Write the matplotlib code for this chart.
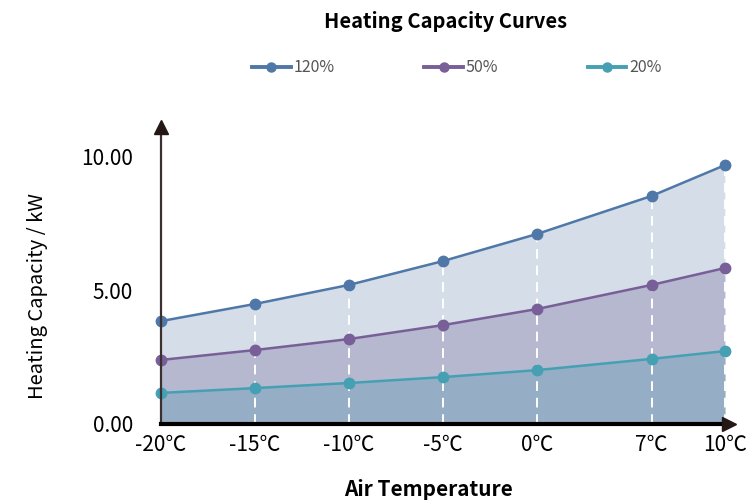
import numpy as np
import matplotlib.pyplot as plt
from matplotlib.lines import Line2D

plt.rcParams['font.family'] = ['Noto Sans CJK KR', 'DejaVu Sans']

# Datos
temperaturas = ['-20℃', '-15℃', '-10℃', '-5℃', '0℃', '7℃', '10℃']
cap_120 = [3.84, 4.48, 5.19, 6.08, 7.09, 8.51, 9.66]
cap_50 = [2.39, 2.76, 3.17, 3.69, 4.29, 5.19, 5.82]
cap_20 = [1.16, 1.34, 1.53, 1.75, 2.01, 2.43, 2.72]

# posiciones de las categorías en el eje (espaciado del original)
posiciones = [0, 1, 2, 3, 4, 5.22, 6]

series = [
    ('120%', cap_120, '#4f78a8', '#d4dde8'),
    ('50%', cap_50, '#785f97', '#b6b8cf'),
    ('20%', cap_20, '#45a0b3', '#95aec5'),
]

fig = plt.figure(figsize=(7.47, 5.03), dpi=100)
ax = fig.add_axes([161 / 747, (503 - 424) / 503, (738 - 161) / 747, (424 - 118) / 503])

x = np.array(posiciones)
for nombre, valores, color, relleno in series:
    ax.fill_between(x, 0, valores, color=relleno, lw=0, zorder=1)

# líneas verticales discontinuas blancas
for xi, yi in zip(x[1:], cap_120[1:]):
    ax.plot([xi, xi], [0, yi], color='white', lw=1.4, ls=(0, (5, 3.5)), zorder=2)

for nombre, valores, color, relleno in series:
    ax.plot(x, valores, color=color, lw=1.8, marker='o', markersize=7.5,
            zorder=3, clip_on=False)

ax.set_xlim(0, 6.14)
ax.set_ylim(0, 11.42)

for lado in ['top', 'right', 'left', 'bottom']:
    ax.spines[lado].set_visible(False)

# ejes con flecha
ax.plot([0, 0], [0, 11.0], color='#3a3030', lw=1.6, zorder=4, clip_on=False)
ax.plot(0, 11.1, marker='^', color='#231815', markersize=10, zorder=4, clip_on=False)
ax.plot([0, 6.0], [0, 0], color='black', lw=3, zorder=4, clip_on=False)
ax.plot(6.04, 0, marker='>', color='#231815', markersize=10, zorder=4, clip_on=False)

ax.set_xticks(x)
ax.set_xticklabels(temperaturas, fontsize=15)
ax.set_yticks([0, 5, 10])
ax.set_yticklabels(['0.00', '5.00', '10.00'], fontsize=15)
ax.tick_params(axis='both', length=0)
ax.tick_params(axis='y', pad=20)
ax.tick_params(axis='x', pad=7)

ax.set_ylabel('Heating Capacity / kW', fontsize=14.5, va='center')
ax.yaxis.set_label_coords((38 - 161) / (738 - 161), (424 - 296) / (424 - 118))
ax.set_xlabel('Air Temperature', fontsize=15, fontweight='bold', va='center')
ax.xaxis.set_label_coords((428 - 161) / (738 - 161), -(489 - 424) / (424 - 118))

fig.text(445 / 747, 1 - 22 / 503, 'Heating Capacity Curves', fontsize=14.5,
         fontweight='bold', ha='center', va='center')

manejadores = [Line2D([], [], color=c, lw=2.8, marker='o', markersize=6.5)
               for _, _, c, _ in series]
fig.legend(manejadores, [s[0] for s in series], loc='center',
           bbox_to_anchor=(457 / 747, 1 - 68 / 503), ncol=3,
           frameon=False, fontsize=11.5, handlelength=2.4, columnspacing=5.6,
           handletextpad=0.2, labelcolor='#555555')

plt.savefig('out.png', dpi=100)
